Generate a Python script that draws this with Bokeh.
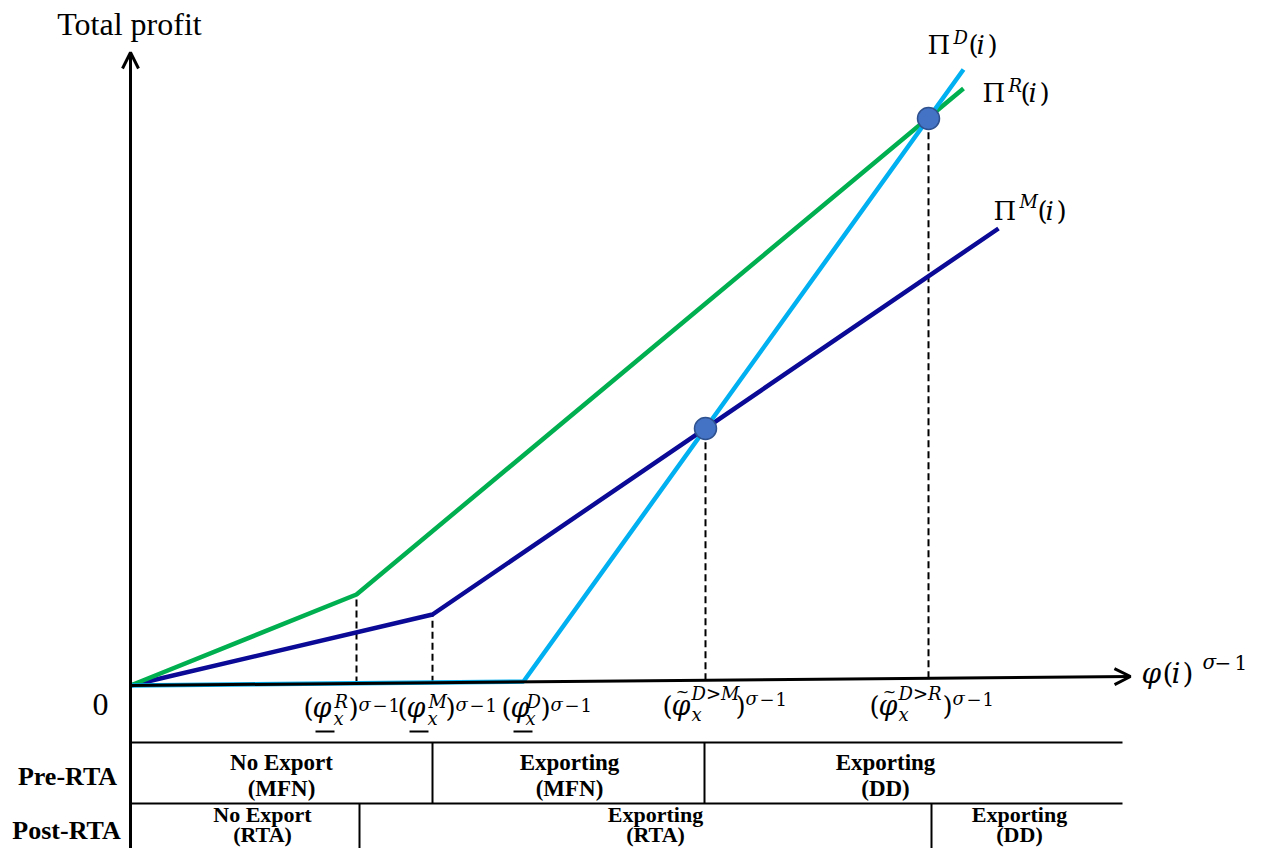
from bokeh.plotting import figure
from bokeh.models import Range1d, Arrow, OpenHead
from bokeh.embed import file_html
from bokeh.resources import INLINE
from bokeh.core.properties import value

# ---------------- data (conceptual units: x = productivity, y = total profit) ----------------
green_x = [0, 226, 833]      # Pi^R(i)
green_y = [0, 91, 597]
navy_x = [0, 302, 868]       # Pi^M(i)
navy_y = [0, 71, 457]
cyan_x = [0, 393, 833]       # Pi^D(i)
cyan_y = [0, 4, 616]

cross_x = [575, 798]         # intersection points
cross_y = [257, 567]

dash_x = [226, 302, 575, 798]  # cut-offs with dashed guides
dash_top = [91, 71, 257, 567]

axis_end = [1000, 9]         # x-axis direction (slightly tilted)
yaxis_top = 633

pre_bounds = [0, 302, 574, 992]
post_bounds = [0, 229, 801, 992]
row_edges = [-57, -118, -163]

pre_labels = [("No Export", "(MFN)"), ("Exporting", "(MFN)"), ("Exporting", "(DD)")]
post_labels = [("No Export", "(RTA)"), ("Exporting", "(RTA)"), ("Exporting", "(DD)")]
row_names = ["Pre-RTA", "Post-RTA"]

SERIF = "Liberation Serif"
MATH = "DejaVu Serif"
OX, OY = 130, 685  # pixel position of the origin inside the figure
KB = 0.37          # baseline correction (fraction of font size)

p = figure(width=1255, height=848, x_range=Range1d(0 - OX, 1255 - OX),
           y_range=Range1d(OY - 848, OY - 0), toolbar_location=None,
           output_backend="svg", min_border=0)
p.axis.visible = False
p.grid.visible = False
p.outline_line_color = None
p.background_fill_color = "white"
p.border_fill_color = "white"


def T(X, Y, s, size, style="normal", align="left", baseline="alphabetic", font=SERIF):
    if baseline == "alphabetic":
        Y = Y - KB * size
    p.text(x=[X - OX], y=[OY - Y], text=[s], text_font=value(font),
           text_font_size=f"{size}px", text_font_style=style, text_align=align,
           text_baseline=baseline, text_color="black")


def M(X, Y, s, size, style="normal", align="left", baseline="alphabetic"):
    T(X, Y, s, size, style, align, baseline, MATH)


def sigma(X, Y, size, d1, d2):
    M(X, Y, "σ", size, "italic")
    M(X + d1, Y, "−", size)
    M(X + d2, Y, "1", size)


# ---------------- axes ----------------
p.add_layout(Arrow(end=OpenHead(size=16, line_width=3, line_color="black"),
                   x_start=0, y_start=row_edges[-1], x_end=0, y_end=yaxis_top,
                   line_width=3, line_color="black"))
p.add_layout(Arrow(end=OpenHead(size=16, line_width=3, line_color="black"),
                   x_start=0, y_start=0, x_end=axis_end[0], y_end=axis_end[1],
                   line_width=3, line_color="black"))

# ---------------- dashed guides ----------------
slope = axis_end[1] / axis_end[0]
p.segment(x0=dash_x, y0=[slope * x for x in dash_x], x1=dash_x, y1=dash_top,
          line_color="black", line_width=2, line_dash="7 4")

# ---------------- profit lines ----------------
p.line(navy_x, navy_y, line_color="#0A0A96", line_width=4.5)
p.line(green_x, green_y, line_color="#00B050", line_width=4.5)
p.line(cyan_x, cyan_y, line_color="#00B0F0", line_width=4.5)
p.scatter(cross_x, cross_y, size=22, fill_color="#4472C4", line_color="#2F528F",
          line_width=1.5)

# ---------------- table ----------------
p.segment(x0=[0, 0], y0=row_edges[:2], x1=[pre_bounds[-1]] * 2, y1=row_edges[:2],
          line_color="black", line_width=2)
p.segment(x0=pre_bounds[1:3], y0=[row_edges[0]] * 2, x1=pre_bounds[1:3],
          y1=[row_edges[1]] * 2, line_color="black", line_width=2)
p.segment(x0=post_bounds[1:3], y0=[row_edges[1]] * 2, x1=post_bounds[1:3],
          y1=[row_edges[2]] * 2, line_color="black", line_width=2)

T(67, 786, row_names[0], 26, "bold", "center")
T(66, 840, row_names[1], 26, "bold", "center")
for (l1, l2), cx in zip(pre_labels, [281, 569, 885]):
    T(cx, 771, l1, 23, "bold", "center")
    T(cx, 797, l2, 23, "bold", "center")
for (l1, l2), cx in zip(post_labels, [262, 655, 1019]):
    T(cx, 822, l1, 22, "bold", "center")
    T(cx, 842, l2, 22, "bold", "center")

# ---------------- axis titles ----------------
T(129, 35, "Total profit", 32, "normal", "center")
T(100, 716, "0", 32, "normal", "center")
M(1141, 683, "φ", 28, "italic")
M(1162, 683, "(", 28)
M(1171, 683, "i", 28, "italic")
M(1182, 683, ")", 28)
sigma(1202, 669, 20, 12, 32)

# ---------------- curve labels ----------------
for X, Y, sup, dy, dp in [(927, 54, "D", 10, 41), (982, 102, "R", 10, 38), (993, 220, "M", 12, 44)]:
    M(X, Y, "Π", 26)
    M(X + 26, Y - dy, sup, 18, "italic")
    M(X + dp, Y, "(", 26)
    M(X + dp + 8, Y, "i", 26, "italic")
    M(X + dp + 19, Y, ")", 26)

# ---------------- cut-off labels ----------------
for X0, sup, sx, cp in [(304, "R", 30, 44), (398, "M", 30, 47), (502, "D", 24, 38)]:
    M(X0 - 1, 717, "(", 26)
    M(X0 + 8, 717, "φ", 27, "italic")
    p.segment(x0=[X0 + 11 - OX], y0=[OY - 731], x1=[X0 + 30 - OX], y1=[OY - 731],
              line_color="black", line_width=2)
    M(X0 + sx, 708, sup, 18, "italic")
    M(X0 + sx - 1, 725, "x", 18, "italic")
    M(X0 + cp, 717, ")", 26)
    sigma(X0 + cp + 10, 711, 18, 14, 30)

for X0, sup in [(663, "D>M"), (870, "D>R")]:
    M(X0 - 1, 715, "(", 26)
    M(X0 + 8, 715, "φ", 27, "italic")
    M(X0 + 19, 691, "~", 16, "normal", "center", "middle")
    M(X0 + 28, 700, sup, 18, "italic")
    M(X0 + 28, 721, "x", 18, "italic")
    M(X0 + 72, 715, ")", 26)
    sigma(X0 + 82, 705, 18, 14, 30)

open("out.html", "w").write(file_html(p, INLINE))
